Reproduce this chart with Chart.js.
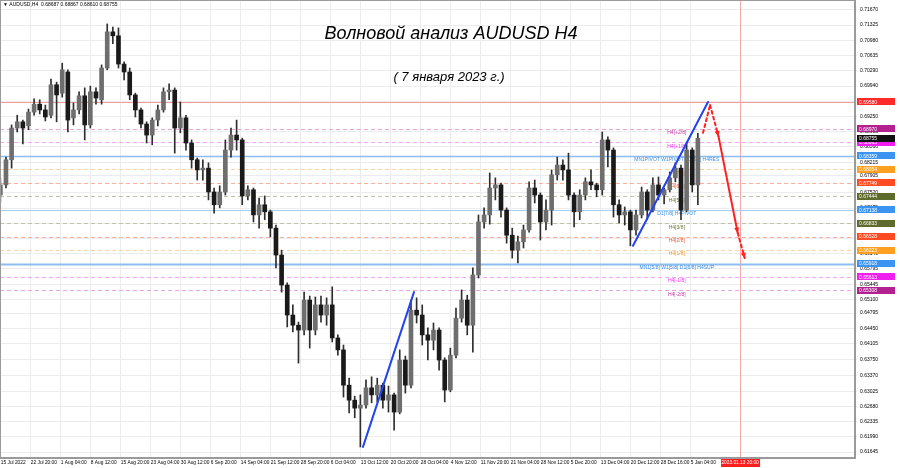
<!DOCTYPE html>
<html>
<head>
<meta charset="utf-8">
<script src="https://cdn.jsdelivr.net/npm/chart.js@4.4.0/dist/chart.umd.min.js"></script>
<style>
  html, body { margin: 0; padding: 0; background: #fff; }
  .canvas-container { width: 900px; height: 468px; }
</style>
</head>
<body>
<div class="canvas-container"><canvas id="chart" width="900" height="468"></canvas></div>
<script>
// header / titles
const symbolInfo = 'AUDUSD,H4  0.68687 0.68867 0.68610 0.68755';
const titleText = 'Волновой анализ AUDUSD H4';
const subtitleText = '( 7 января 2023 г.)';

// one candle per trading day
const openP = [
  0.6747,0.6770,0.6827,0.6899,0.6913,0.6904,0.6935,0.6953,0.6940,0.6928,
  0.6997,0.6978,0.7026,0.6922,0.6940,0.6972,0.6906,0.6981,0.6963,0.7035,
  0.7117,0.7108,0.7044,0.7026,0.6974,0.6940,0.6908,0.6883,0.6917,0.6940,
  0.6981,0.6985,0.6899,0.6922,0.6865,0.6827,0.6804,0.6808,0.6754,0.6725,
  0.6754,0.6849,0.6883,0.6872,0.6745,0.6759,0.6702,0.6725,0.6709,0.6672,
  0.6611,0.6543,0.6475,0.6452,0.6441,0.6509,0.6441,0.6498,0.6475,0.6498,
  0.6423,0.6396,0.6316,0.6282,0.6264,0.6271,0.6310,0.6294,0.6316,0.6282,
  0.6294,0.6255,0.6373,0.6316,0.6486,0.6475,0.6430,0.6418,0.6441,0.6373,
  0.6305,0.6384,0.6468,0.6509,0.6452,0.6566,0.6686,0.6702,0.6763,0.6770,
  0.6713,0.6656,0.6622,0.6641,0.6668,0.6763,0.6747,0.6686,0.6713,0.6793,
  0.6815,0.6804,0.6747,0.6709,0.6747,0.6777,0.6770,0.6759,0.6872,0.6849,
  0.6725,0.6702,0.6709,0.6668,0.6702,0.6754,0.6713,0.6770,0.6747,0.6759,
  0.6786,0.6808,0.6713,0.6849,0.6770
];
const highP = [
  0.6786,0.6833,0.6906,0.6928,0.6917,0.6942,0.6965,0.6963,0.6951,0.7010,
  0.7003,0.7046,0.7031,0.6956,0.6981,0.6990,0.6994,0.6990,0.7042,0.7135,
  0.7128,0.7126,0.7049,0.7035,0.6978,0.6944,0.6913,0.6922,0.6951,0.6990,
  0.6999,0.6990,0.6958,0.6928,0.6872,0.6831,0.6827,0.6820,0.6763,0.6768,
  0.6872,0.6899,0.6917,0.6876,0.6768,0.6763,0.6740,0.6745,0.6713,0.6679,
  0.6622,0.6548,0.6498,0.6459,0.6527,0.6518,0.6516,0.6518,0.6514,0.6539,
  0.6430,0.6407,0.6332,0.6291,0.6294,0.6328,0.6335,0.6332,0.6321,0.6314,
  0.6298,0.6396,0.6382,0.6509,0.6514,0.6498,0.6446,0.6457,0.6446,0.6378,
  0.6400,0.6491,0.6532,0.6520,0.6582,0.6702,0.6718,0.6797,0.6786,0.6774,
  0.6718,0.6672,0.6654,0.6679,0.6777,0.6781,0.6752,0.6736,0.6804,0.6833,
  0.6827,0.6842,0.6752,0.6759,0.6786,0.6804,0.6774,0.6890,0.6879,0.6854,
  0.6736,0.6720,0.6713,0.6713,0.6765,0.6759,0.6786,0.6788,0.6763,0.6799,
  0.6820,0.6815,0.6867,0.6854,0.6887
];
const lowP = [
  0.6731,0.6763,0.6808,0.6890,0.6863,0.6895,0.6928,0.6931,0.6915,0.6922,
  0.6913,0.6969,0.6890,0.6906,0.6931,0.6872,0.6899,0.6953,0.6953,0.7031,
  0.7090,0.7035,0.7008,0.6963,0.6924,0.6899,0.6865,0.6861,0.6904,0.6935,
  0.6963,0.6842,0.6888,0.6849,0.6808,0.6781,0.6781,0.6736,0.6706,0.6718,
  0.6747,0.6833,0.6849,0.6725,0.6736,0.6686,0.6672,0.6691,0.6652,0.6582,
  0.6527,0.6448,0.6437,0.6366,0.6430,0.6400,0.6430,0.6459,0.6452,0.6414,
  0.6384,0.6289,0.6253,0.6242,0.6176,0.6264,0.6276,0.6278,0.6264,0.6255,
  0.6214,0.6251,0.6298,0.6310,0.6457,0.6407,0.6373,0.6396,0.6350,0.6278,
  0.6301,0.6378,0.6459,0.6430,0.6391,0.6559,0.6672,0.6681,0.6736,0.6697,
  0.6638,0.6604,0.6593,0.6627,0.6663,0.6729,0.6645,0.6668,0.6679,0.6781,
  0.6781,0.6736,0.6675,0.6691,0.6736,0.6759,0.6743,0.6747,0.6811,0.6697,
  0.6684,0.6679,0.6632,0.6656,0.6695,0.6691,0.6709,0.6736,0.6727,0.6754,
  0.6777,0.6691,0.6709,0.6754,0.6725
];
const closeP = [
  0.6770,0.6827,0.6899,0.6913,0.6899,0.6935,0.6953,0.6940,0.6924,0.6997,
  0.6974,0.7031,0.6917,0.6940,0.6972,0.6906,0.6981,0.6967,0.7035,0.7117,
  0.7108,0.7044,0.7026,0.6974,0.6940,0.6908,0.6883,0.6917,0.6940,0.6981,
  0.6985,0.6899,0.6922,0.6865,0.6827,0.6804,0.6808,0.6754,0.6725,0.6754,
  0.6849,0.6883,0.6872,0.6745,0.6759,0.6702,0.6725,0.6709,0.6672,0.6611,
  0.6543,0.6475,0.6452,0.6441,0.6509,0.6441,0.6498,0.6475,0.6498,0.6423,
  0.6396,0.6316,0.6282,0.6264,0.6271,0.6310,0.6294,0.6316,0.6282,0.6294,
  0.6255,0.6373,0.6316,0.6486,0.6475,0.6430,0.6418,0.6441,0.6373,0.6305,
  0.6384,0.6468,0.6509,0.6452,0.6566,0.6686,0.6702,0.6763,0.6770,0.6713,
  0.6656,0.6622,0.6641,0.6668,0.6763,0.6747,0.6686,0.6713,0.6793,0.6815,
  0.6804,0.6747,0.6709,0.6747,0.6777,0.6770,0.6759,0.6872,0.6849,0.6725,
  0.6702,0.6709,0.6668,0.6702,0.6754,0.6713,0.6770,0.6747,0.6759,0.6786,
  0.6808,0.6713,0.6849,0.6770,0.68755
];

// time axis (H4 bar numbers, 6 bars a day)
const timeLabels = ['15 Jul 2022','22 Jul 20:00','1 Aug 04:00','8 Aug 12:00','15 Aug 20:00','23 Aug 04:00',
  '30 Aug 12:00','6 Sep 20:00','14 Sep 04:00','21 Sep 12:00','28 Sep 20:00','6 Oct 04:00','13 Oct 12:00',
  '20 Oct 20:00','28 Oct 04:00','4 Nov 12:00','11 Nov 20:00','21 Nov 04:00','28 Nov 12:00','5 Dec 20:00',
  '13 Dec 04:00','20 Dec 12:00','28 Dec 16:00','5 Jan 04:00'];
const futureLabel = '2023.01.13 20:00';
const futureBar = 791.5;

// price axis
const priceTicks = [0.71670,0.71325,0.70980,0.70635,0.70290,0.69940,0.69595,0.69250,0.68905,0.68560,
  0.68215,0.67905,0.67520,0.67175,0.66830,0.66485,0.66140,0.65795,0.65445,0.65100,0.64795,0.64450,
  0.64105,0.63750,0.63370,0.63025,0.62680,0.62335,0.61990,0.61645];
const resistPrice = 0.69580;
const lastPrice = 0.68755;

// murrey levels
const levelNames = ['H4[+2/8]','H4[+1/8]','MN1PIVOT W1PIVOT D1[8/8] H4RES','H4[7/8]','H4[6/8]','H4[5/8]',
  'D1[7/8] H4PIVOT','H4[3/8]','H4[2/8]','H4[1/8]','MN1[5/8] W1[5/8] D1[6/8] H4SUP','H4[-1/8]','H4[-2/8]'];
const levelPrices = [0.68970,0.68665,0.68359,0.68054,0.67749,0.67444,0.67138,0.66833,0.66528,0.66223,
  0.65918,0.65613,0.65308];

// drawn wave lines and forecast
const wave1Bars = [389.3, 443.7];
const wave1Prices = [0.6176, 0.6527];
const wave2Bars = [677.3, 757.3];
const wave2Prices = [0.6632, 0.6958];
const forecastBars = [752, 759.5, 768.5, 789, 796.5];
const forecastPrices = [0.6888, 0.6951, 0.6880, 0.6661, 0.6604];

// styles
const PURPLE = '#b3208f', MAGENTA = '#f01ef0', BLUE = '#3b93f2', ORANGE = '#ffa023', REDOR = '#ff4a22', OLIVE = '#5d6b2c';
const levelStyles = [
  { tag: PURPLE,  text: '#c43aa2', line: '#e7a6d9', dash: [4, 3], w: 1 },
  { tag: MAGENTA, text: '#ee3aee', line: '#f5a6f5', dash: [4, 3], w: 1 },
  { tag: BLUE,    text: '#3b8fe6', line: '#8dbdf0', dash: [],     w: 1.5 },
  { tag: ORANGE,  text: '#ee9a2a', line: '#ffd2a6', dash: [4, 3], w: 1 },
  { tag: REDOR,   text: '#ee5a32', line: '#ffae9a', dash: [4, 3], w: 1 },
  { tag: OLIVE,   text: '#6b7a34', line: '#c2c2a6', dash: [4, 3], w: 1 },
  { tag: BLUE,    text: '#3b8fe6', line: '#a6cdf2', dash: [],     w: 1 },
  { tag: OLIVE,   text: '#6b7a34', line: '#c2c2a6', dash: [4, 3], w: 1 },
  { tag: REDOR,   text: '#ee5a32', line: '#ffae9a', dash: [4, 3], w: 1 },
  { tag: ORANGE,  text: '#ee9a2a', line: '#ffd2a6', dash: [4, 3], w: 1 },
  { tag: BLUE,    text: '#3b8fe6', line: '#8dbdf0', dash: [],     w: 2 },
  { tag: MAGENTA, text: '#ee3aee', line: '#f5a6f5', dash: [4, 3], w: 1 },
  { tag: PURPLE,  text: '#c43aa2', line: '#e7a6d9', dash: [4, 3], w: 1 }
];
const FONT = "'Liberation Sans', Arial, sans-serif";

function dayBar(i) { return i * 6 + 2.5; }

function arrowHead(ctx, x1, y1, x2, y2, size) {
  const a = Math.atan2(y2 - y1, x2 - x1);
  ctx.beginPath();
  ctx.moveTo(x2, y2);
  ctx.lineTo(x2 - size * Math.cos(a - 0.45), y2 - size * Math.sin(a - 0.45));
  ctx.lineTo(x2 - size * Math.cos(a + 0.45), y2 - size * Math.sin(a + 0.45));
  ctx.closePath();
  ctx.fill();
}

function tag(ctx, x, y, w, h, bg, txt) {
  ctx.fillStyle = bg;
  ctx.fillRect(x, Math.round(y - h / 2), w, h);
  ctx.fillStyle = '#fff';
  ctx.textAlign = 'left';
  ctx.textBaseline = 'middle';
  ctx.fillText(txt, x + 2, y + 0.5);
}

const levelsPlugin = {
  id: 'levels',
  beforeDatasetsDraw(chart) {
    const { ctx, chartArea: a, scales: { x, y } } = chart;
    ctx.save();
    ctx.beginPath();
    ctx.rect(a.left, a.top, a.right - a.left, a.bottom - a.top);
    ctx.clip();
    // red resistance line
    let py = Math.round(y.getPixelForValue(resistPrice)) + 0.5;
    ctx.strokeStyle = '#f29c9c';
    ctx.lineWidth = 1;
    ctx.beginPath(); ctx.moveTo(a.left, py); ctx.lineTo(a.right, py); ctx.stroke();
    // future time line
    const fx = Math.round(x.getPixelForValue(futureBar)) + 0.5;
    ctx.strokeStyle = '#f7a8a8';
    ctx.beginPath(); ctx.moveTo(fx, a.top); ctx.lineTo(fx, a.bottom); ctx.stroke();
    // murrey levels
    levelPrices.forEach((p, i) => {
      const s = levelStyles[i];
      py = Math.round(y.getPixelForValue(p)) + 0.5;
      ctx.strokeStyle = s.line;
      ctx.lineWidth = s.w;
      ctx.setLineDash(s.dash);
      ctx.beginPath(); ctx.moveTo(a.left, py); ctx.lineTo(a.right, py); ctx.stroke();
    });
    ctx.setLineDash([]);
    ctx.font = '5px ' + FONT;
    ctx.textAlign = 'center';
    ctx.textBaseline = 'top';
    const lx = x.getPixelForValue(724);
    levelPrices.forEach((p, i) => {
      ctx.fillStyle = levelStyles[i].text;
      ctx.fillText(levelNames[i], lx, y.getPixelForValue(p) + 1.5);
    });
    ctx.restore();
  },
  afterDatasetsDraw(chart) {
    const { ctx, scales: { x, y } } = chart;
    ctx.save();
    ctx.lineCap = 'round';
    // blue wave lines
    ctx.strokeStyle = '#2244f0';
    ctx.lineWidth = 2;
    [[wave1Bars, wave1Prices], [wave2Bars, wave2Prices]].forEach(([b, p]) => {
      ctx.beginPath();
      ctx.moveTo(x.getPixelForValue(b[0]), y.getPixelForValue(p[0]));
      ctx.lineTo(x.getPixelForValue(b[1]), y.getPixelForValue(p[1]));
      ctx.stroke();
    });
    // red forecast
    ctx.strokeStyle = '#ff2020';
    ctx.fillStyle = '#ff2020';
    const dashes = [[3, 3], [3, 3], [], [3, 3]];
    for (let i = 0; i < forecastBars.length - 1; i++) {
      const x1 = x.getPixelForValue(forecastBars[i]), y1 = y.getPixelForValue(forecastPrices[i]);
      const x2 = x.getPixelForValue(forecastBars[i + 1]), y2 = y.getPixelForValue(forecastPrices[i + 1]);
      ctx.setLineDash(dashes[i]);
      ctx.beginPath(); ctx.moveTo(x1, y1); ctx.lineTo(x2, y2); ctx.stroke();
      ctx.setLineDash([]);
      if (i > 0) arrowHead(ctx, x1, y1, x2, y2, 6);
    }
    ctx.restore();
  },
  afterDraw(chart) {
    const { ctx, chartArea: a, scales: { x, y } } = chart;
    ctx.save();
    // frame
    ctx.strokeStyle = '#9a9a9a';
    ctx.lineWidth = 1;
    ctx.strokeRect(a.left + 0.5, a.top + 0.5, a.right - a.left - 1, a.bottom - a.top - 1);
    // price tags on the right
    ctx.font = '5px ' + FONT;
    const tx = a.right + 2;
    levelPrices.forEach((p, i) => tag(ctx, tx, y.getPixelForValue(p), 38, 7, levelStyles[i].tag, p.toFixed(5)));
    tag(ctx, tx, y.getPixelForValue(resistPrice), 38, 7, '#ff2a2a', resistPrice.toFixed(5));
    tag(ctx, tx, y.getPixelForValue(lastPrice), 38, 7, '#111', lastPrice.toFixed(5));
    // future time tag
    ctx.font = '4.8px ' + FONT;
    const fx = x.getPixelForValue(futureBar);
    ctx.fillStyle = '#ff1e1e';
    ctx.fillRect(fx - 19, a.bottom + 1, 39, 8);
    ctx.fillStyle = '#fff';
    ctx.textAlign = 'center';
    ctx.textBaseline = 'middle';
    ctx.fillText(futureLabel, fx, a.bottom + 5);
    // header
    ctx.font = '5px ' + FONT;
    ctx.fillStyle = '#000';
    ctx.textAlign = 'left';
    ctx.fillText('\u25BC ' + symbolInfo, 3, 5);
    // titles
    ctx.textAlign = 'center';
    ctx.font = 'italic 18px ' + FONT;
    ctx.fillText(titleText, 451, 34);
    ctx.font = 'italic 13px ' + FONT;
    ctx.fillText(subtitleText, 449, 77);
    ctx.restore();
  }
};

const canvas = document.getElementById('chart');
const ctx = canvas.getContext('2d');

const chart = new Chart(ctx, {
  type: 'bar',
  data: {
    datasets: [
      {
        label: 'wicks',
        data: openP.map((o, i) => ({ x: dayBar(i), y: [lowP[i], highP[i]] })),
        backgroundColor: '#2e2e2e',
        barThickness: 1,
        grouped: false,
        order: 2
      },
      {
        label: 'bodies',
        data: openP.map((o, i) => ({ x: dayBar(i), y: [Math.min(o, closeP[i]), Math.max(o, closeP[i])] })),
        backgroundColor: openP.map((o, i) => closeP[i] >= o ? '#6e6e6e' : '#1a1a1a'),
        barThickness: 4,
        minBarLength: 1,
        grouped: false,
        order: 1
      }
    ]
  },
  options: {
    responsive: false,
    animation: false,
    layout: { padding: 0 },
    plugins: { legend: { display: false }, tooltip: { enabled: false } },
    scales: {
      x: {
        type: 'linear',
        min: 2.13,
        max: 914.1,
        offset: false,
        grid: { color: '#ececec', offset: false, drawTicks: false },
        border: { color: '#9a9a9a' },
        afterBuildTicks: axis => { axis.ticks = timeLabels.map((t, i) => ({ value: 3 + 32 * i })); },
        afterFit: axis => { axis.height = 10; axis.paddingLeft = 0; axis.paddingRight = 0; },
        ticks: {
          autoSkip: false,
          maxRotation: 0,
          align: 'start',
          padding: 2,
          color: '#000',
          font: { size: 4.8, family: FONT },
          callback: (v, i) => timeLabels[i]
        }
      },
      y: {
        position: 'right',
        min: 0.61509,
        max: 0.71892,
        grid: { color: '#ececec', tickLength: 2 },
        border: { color: '#9a9a9a' },
        afterBuildTicks: axis => { axis.ticks = priceTicks.map(v => ({ value: v })); },
        afterFit: axis => { axis.width = 45; axis.paddingTop = 0; axis.paddingBottom = 0; },
        ticks: {
          padding: 3,
          color: '#000',
          font: { size: 5, family: FONT },
          callback: v => v.toFixed(5)
        }
      }
    }
  },
  plugins: [levelsPlugin]
});
</script>
</body>
</html>
